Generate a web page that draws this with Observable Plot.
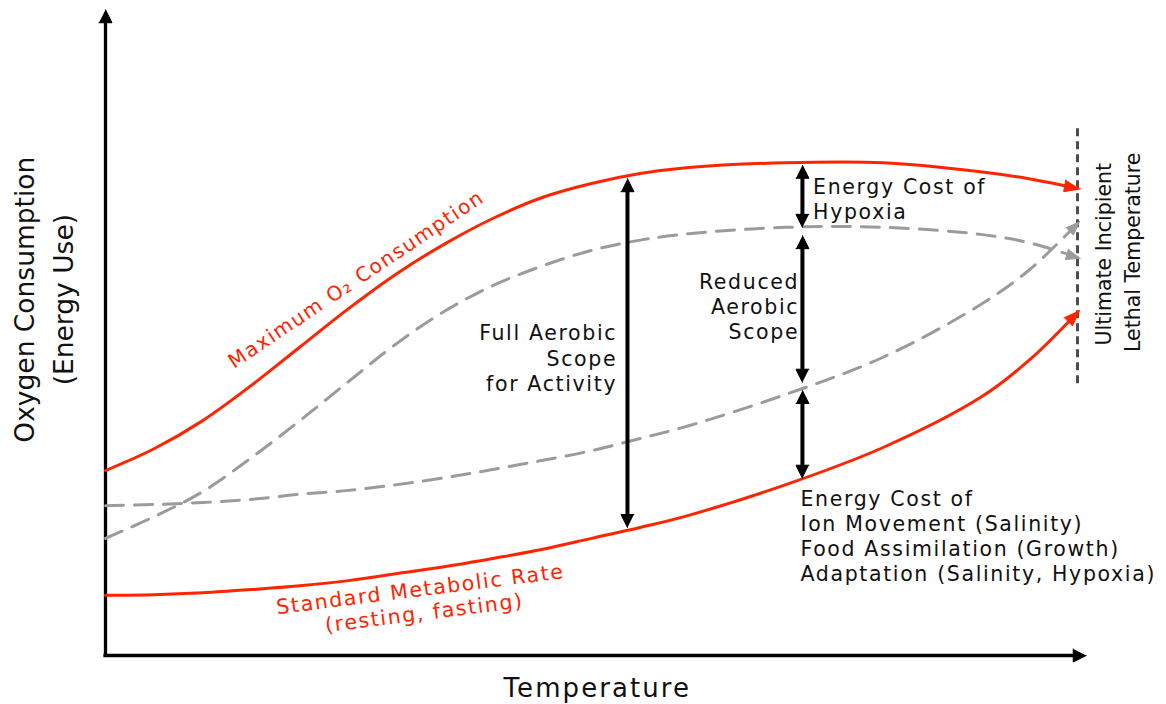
<!DOCTYPE html>
<html>
<head>
<meta charset="utf-8">
<script src="https://cdn.jsdelivr.net/npm/d3@7"></script>
<script src="https://cdn.jsdelivr.net/npm/@observablehq/plot@0.6"></script>
<style>
  html, body { margin: 0; padding: 0; background: #fff; }
</style>
</head>
<body>
<div id="chart"></div>
<script>
// ---------- data (abstract units: temperature 0–100, oxygen consumption 0–100) ----------
const temp      = [0, 5, 10, 15, 20, 25, 30, 35, 40, 45, 50, 55, 60, 70, 80, 90, 95, 100];
const maxO2     = [28.9, 32.3, 36.7, 42.2, 48.2, 54.2, 59.7, 64.4, 68.4, 71.6, 73.75, 75.3, 76.25, 77.0, 77.0, 75.6, 74.5, 73.0];
const smr       = [9.4, 9.5, 9.8, 10.3, 10.9, 11.7, 12.8, 13.9, 15.2, 16.6, 18.3, 20.0, 21.9, 26.7, 32.5, 40.3, 46.1, 53.6];
const reducedMax= [18.3, 21.7, 25.6, 30.9, 36.7, 42.8, 48.8, 53.9, 57.9, 60.9, 63.3, 64.9, 65.9, 66.9, 66.9, 65.8, 64.5, 62.2];
const raisedSmr = [23.4, 23.6, 23.9, 24.4, 25.2, 25.8, 26.7, 27.8, 29.1, 30.5, 32.0, 33.9, 35.9, 40.8, 46.6, 54.8, 60.2, 67.5];

// double-headed scope arrows
const scopeX      = [53.7, 71.7, 71.7, 71.7];
const scopeTop    = [74.5, 76.6, 65.6, 41.4];
const scopeBottom = [20.0, 66.9, 42.7, 27.7];

// ultimate incipient lethal temperature marker
const lethalX = 100, lethalTop = 82.3, lethalBottom = 41.7;
// axis arrow tips
const axisTipX = 100.9, axisTipY = 100.9;

// ---------- labels (anchored in data units) ----------
const yLabel      = [{t: "Oxygen Consumption", x: -8.2, y: 55.6}, {t: "(Energy Use)", x: -4.2, y: 55.6}];
const xLabel      = [{t: "Temperature", x: 50.6, y: -5.2}];
const lethalLabel = [{t: "Ultimate Incipient", x: 102.8, y: 62.7}, {t: "Lethal Temperature", x: 105.8, y: 63.0}];
const maxLabel    = [{t: "Maximum O\u2082 Consumption", x: 25.8, y: 58.75}];
const smrLabel    = [{t: "Standard Metabolic Rate", x: 32.4, y: 10.3}, {t: "(resting, fasting)", x: 32.8, y: 6.6}];
const fullLabel   = [{t: "Full Aerobic", x: 52.64, y: 50.3}, {t: "Scope", x: 52.64, y: 46.3}, {t: "for Activity", x: 52.64, y: 42.4}];
const reducedLabel= [{t: "Reduced", x: 71.37, y: 58.3}, {t: "Aerobic", x: 71.37, y: 54.4}, {t: "Scope", x: 71.37, y: 50.5}];
const hypoxLabel  = [{t: "Energy Cost of", x: 72.8, y: 73.2}, {t: "Hypoxia", x: 72.8, y: 69.25}];
const costLabel   = [{t: "Energy Cost of", x: 71.5, y: 24.4}, {t: "Ion Movement (Salinity)", x: 71.5, y: 20.5},
                     {t: "Food Assimilation (Growth)", x: 71.5, y: 16.6}, {t: "Adaptation (Salinity, Hypoxia)", x: 71.5, y: 12.7}];

// ---------- layout ----------
const W = 1166, H = 704;
const mL = 105, mR = 89, mT = 15, mB = 49;
const RED = "#ff2400", GRAY = "#9b9b9b", INK = "#111111", DARK = "#4d4d4d";
const FONT = "DejaVu Sans";

const series = (vals, name) => temp.map((t, i) => ({x: t, y: vals[i], s: name}));
const maxData = series(maxO2, "max"), smrData = series(smr, "smr");
const redMaxData = series(reducedMax, "rmax"), raiseData = series(raisedSmr, "rsmr");

// same mapping as the plot's scales, used to shape arrowheads in screen space
const xs = d3.scaleLinear([0, 100], [mL, W - mR]);
const ys = d3.scaleLinear([0, 100], [H - mB, mT]);
function head(id, tip, from, len, hw, ext = 0) {
  const tx = xs(tip[0]), ty = ys(tip[1]);
  const fx = xs(from[0]), fy = ys(from[1]);
  const d = Math.hypot(tx - fx, ty - fy), ux = (tx - fx) / d, uy = (ty - fy) / d;
  const px = tx + ux * ext, py = ty + uy * ext;
  const bx = px - ux * len, by = py - uy * len;
  const nx = -uy, ny = ux;
  return [[px, py], [bx + nx * hw, by + ny * hw], [bx - nx * hw, by - ny * hw]]
    .map(([a, b]) => ({id, x: xs.invert(a), y: ys.invert(b)}));
}
const n = temp.length;
const endOf = v => [[temp[n - 1], v[n - 1]], [temp[n - 2], v[n - 2]]];
const redHeads = [
  ...head("max", ...endOf(maxO2), 16, 6, 3),
  ...head("smr", ...endOf(smr), 16, 6, 3)
];
const grayHeads = [
  ...head("rmax", ...endOf(reducedMax), 14, 5.5, 3),
  ...head("rsmr", ...endOf(raisedSmr), 14, 5.5, 3)
];
const blackHeads = [
  ...head("ax", [axisTipX, 0], [0, 0], 13, 6.5),
  ...head("ay", [0, axisTipY], [0, 0], 13, 6.5)
];
scopeX.forEach((x, i) => {
  blackHeads.push(...head("t" + i, [x, scopeTop[i]], [x, scopeBottom[i]], 13, 6.5));
  blackHeads.push(...head("b" + i, [x, scopeBottom[i]], [x, scopeTop[i]], 13, 6.5));
});
// y1 = upper end on screen so the insets shorten the shaft inside both heads
const scopes = scopeX.map((x, i) => ({x, y1: scopeTop[i], y2: scopeBottom[i]}));

const txt = (data, o) => Plot.text(data, {x: "x", y: "y", text: "t", fontFamily: FONT, ...o});

const chart = Plot.plot({
  width: W, height: H,
  marginLeft: mL, marginRight: mR, marginTop: mT, marginBottom: mB,
  x: {domain: [0, 100], axis: null},
  y: {domain: [0, 100], axis: null},
  style: {fontFamily: FONT, background: "#fff", overflow: "visible"},
  marks: [
    // axes
    Plot.ruleY([0], {x1: 0, x2: axisTipX, stroke: "#000", strokeWidth: 3.3, insetRight: 8, insetLeft: -1.6}),
    Plot.ruleX([0], {y1: axisTipY, y2: 0, stroke: "#000", strokeWidth: 3.3, insetTop: 8, insetBottom: -1.6}),
    // lethal temperature marker
    Plot.ruleX([lethalX], {y1: lethalTop, y2: lethalBottom, stroke: DARK, strokeWidth: 3, strokeDasharray: "8,5"}),
    // dashed (stressed) curves
    Plot.line(redMaxData, {x: "x", y: "y", curve: "catmull-rom", stroke: GRAY, strokeWidth: 3, strokeDasharray: "18,11"}),
    Plot.line(raiseData, {x: "x", y: "y", curve: "catmull-rom", stroke: GRAY, strokeWidth: 3, strokeDasharray: "18,11"}),
    Plot.line(grayHeads, {x: "x", y: "y", z: "id", fill: GRAY, stroke: GRAY, strokeWidth: 1}),
    // red curves
    Plot.line(maxData, {x: "x", y: "y", curve: "catmull-rom", stroke: RED, strokeWidth: 3}),
    Plot.line(smrData, {x: "x", y: "y", curve: "catmull-rom", stroke: RED, strokeWidth: 3}),
    Plot.line(redHeads, {x: "x", y: "y", z: "id", fill: RED, stroke: RED, strokeWidth: 1}),
    // scope arrows
    Plot.ruleX(scopes, {x: "x", y1: "y1", y2: "y2", stroke: "#000", strokeWidth: 4, insetTop: 9, insetBottom: 9}),
    Plot.line(blackHeads, {x: "x", y: "y", z: "id", fill: "#000", stroke: "#000", strokeWidth: 1}),
    // texts
    txt(yLabel, {fontSize: 26.5, rotate: -90, fill: INK}),
    txt(xLabel, {fontSize: 26, fill: INK}),
    txt(lethalLabel, {fontSize: 20.5, rotate: -90, fill: INK}),
    txt(maxLabel, {fontSize: 20, rotate: -33.8, fill: RED}),
    txt(smrLabel, {fontSize: 20.5, rotate: -7.2, fill: RED}),
    txt(fullLabel, {fontSize: 20.5, textAnchor: "end", fill: INK}),
    txt(reducedLabel, {fontSize: 20.5, textAnchor: "end", fill: INK}),
    txt(hypoxLabel, {fontSize: 20.5, textAnchor: "start", fill: INK}),
    txt(costLabel, {fontSize: 20.5, textAnchor: "start", fill: INK})
  ]
});

// the reference lettering is set wide; widen horizontal texts to match
const noSpacing = new Set([...yLabel, ...lethalLabel].map(d => d.t));
chart.querySelectorAll("text").forEach(t => {
  if (!noSpacing.has(t.textContent)) t.style.letterSpacing = "0.08em";
});
document.getElementById("chart").appendChild(chart);
</script>
</body>
</html>
